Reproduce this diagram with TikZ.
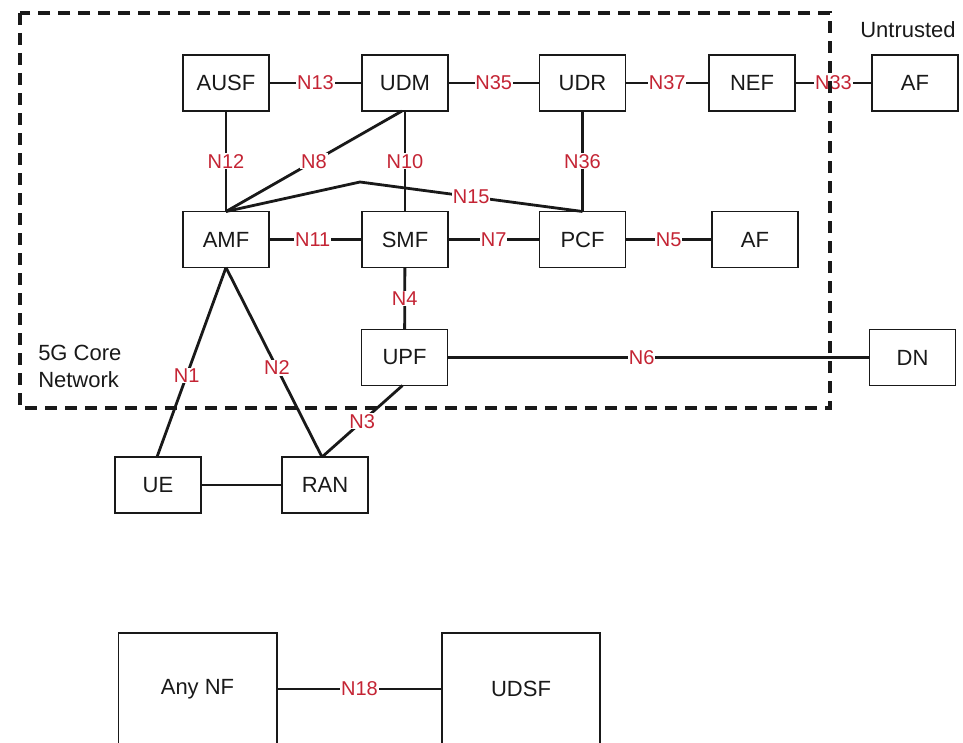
\documentclass[tikz,border=0pt]{standalone}
\usepackage{fontspec}
\setmainfont{Liberation Sans}
\definecolor{labred}{RGB}{196,36,52}
\definecolor{ink}{RGB}{25,25,25}
\begin{document}
\begin{tikzpicture}[x=0.75pt,y=-0.75pt,
  nf/.style={draw=ink, line width=1pt, minimum width=64.5pt, minimum height=42pt,
             inner sep=0pt, outer sep=0pt, font=\fontsize{16.5}{19}\selectfont, text=ink},
  lab/.style={text=labred, fill=white, inner sep=0.6pt, font=\fontsize{15}{18}\selectfont},
  link/.style={line width=2.1pt, draw=ink},
  corebox/.style={line width=2.6pt, draw=ink, dash pattern=on 9pt off 6pt},
  plain/.style={font=\fontsize{16.5}{20}\selectfont, text=ink, inner sep=0pt}]
\useasboundingbox (0,0) rectangle (963,742);
% network functions
\node[nf] (ausf) at (226,83) {AUSF};
\node[nf] (udm) at (405,83) {UDM};
\node[nf] (udr) at (582.5,83) {UDR};
\node[nf] (nef) at (752,83) {NEF};
\node[nf] (aft) at (915,83) {AF};
\node[nf] (amf) at (226,239.5) {AMF};
\node[nf] (smf) at (405,239.5) {SMF};
\node[nf] (pcf) at (582.5,239.5) {PCF};
\node[nf] (afm) at (755,239.5) {AF};
\node[nf] (upf) at (404.5,357.5) {UPF};
\node[nf] (dn) at (912.5,357.5) {DN};
\node[nf] (ue) at (158,485) {UE};
\node[nf] (ran) at (325,485) {RAN};
\node[nf, minimum width=119pt, minimum height=84pt] (anynf) at (197.5,689) {Any NF};
\node[nf, minimum width=118.5pt, minimum height=84pt] (udsf) at (521,689) {UDSF};
% connectors
\draw[link] (ausf) -- node[lab]{N13} (udm);
\draw[link] (udm) -- node[lab]{N35} (udr);
\draw[link] (udr) -- node[lab]{N37} (nef);
\draw[link] (nef) -- node[lab]{N33} (aft);
\draw[link] (ausf) -- node[lab]{N12} (amf);
\draw[link] (udm) -- node[lab]{N10} (smf);
\draw[link] (udr) -- node[lab]{N36} (pcf);
\coordinate (bend) at (360,182);
\draw[link] (amf.north) -- (bend) -- node[lab,pos=0.5]{N15} (pcf.north);
\draw[link] ([xshift=-2.25pt]udm.south) -- node[lab]{N8} (amf.north);
\draw[link] (amf) -- node[lab,pos=0.47]{N11} (smf);
\draw[link] (smf) -- node[lab]{N7} (pcf);
\draw[link] (pcf) -- node[lab]{N5} (afm);
\draw[link] (smf) -- node[lab]{N4} (upf);
\draw[link] (upf) -- node[lab,pos=0.46]{N6} (dn);
\draw[link] (amf.south) -- node[lab,pos=0.57]{N1} ([xshift=-0.75pt]ue.north);
\draw[link] (amf.south) -- node[lab,pos=0.53]{N2} ([xshift=-2.25pt]ran.north);
\draw[link] ([xshift=-1.5pt]upf.south) -- node[lab]{N3} ([xshift=-2.25pt]ran.north);
\draw[link] (ue) -- (ran);
\draw[link] (anynf) -- node[lab]{N18} (udsf);
% core network boundary
\draw[corebox] (20,13) rectangle (830,408);
\node[plain] (untr) at (908,30) {Untrusted};
\node[plain, align=left, anchor=west] (core) at (38,366.5) {5G Core\\Network};
\end{tikzpicture}
\end{document}
